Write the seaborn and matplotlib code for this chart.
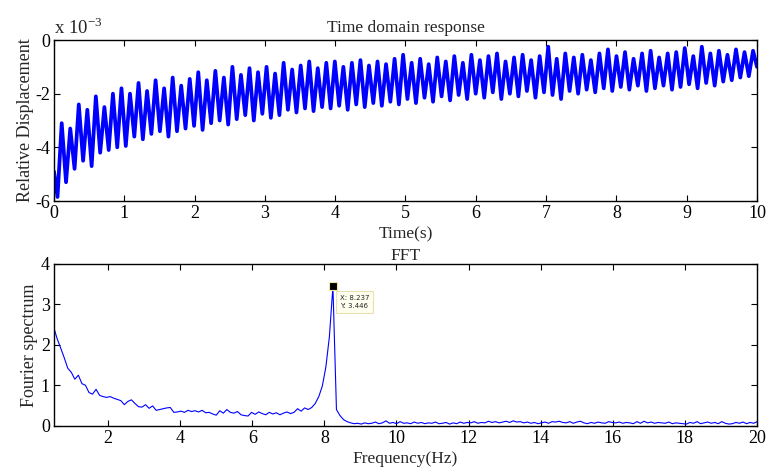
import numpy as np
import pandas as pd
import matplotlib
matplotlib.use("Agg")
import matplotlib.pyplot as plt
import seaborn as sns

# ---------------- data ----------------
# Time response: one trough and one peak per oscillation cycle (x 1e-3)
f_main = 8.237  # Hz, dominant frequency (from datatip)
start_value = -4.9
end_value = -1.0
troughs = [-5.85, -5.3, -4.8, -4.5, -4.7, -4.2, -4.1, -4.0,
           -3.95, -3.6, -3.7, -3.5, -3.4, -3.6, -3.4, -3.3,
           -3.2, -3.35, -3.1, -3.0, -3.15, -2.95, -2.8, -3.0,
           -2.75, -2.9, -2.8, -2.6, -2.7, -2.55, -2.65, -2.5,
           -2.55, -2.45, -2.6, -2.4, -2.5, -2.35, -2.45, -2.3,
           -2.4, -2.2, -2.35, -2.15, -2.3, -2.1, -2.25, -2.05,
           -2.2, -2.0, -2.15, -1.95, -2.2, -2.0, -2.1, -1.9,
           -2.15, -1.95, -2.05, -2.2, -1.9, -2.0, -1.85, -1.95,
           -1.8, -1.9, -1.75, -1.85, -1.7, -1.9, -1.8, -1.7,
           -1.85, -1.75, -1.65, -1.8, -1.6, -1.7, -1.55, -1.5, -1.4, -1.35]
peaks = [-3.1, -3.3, -2.4, -2.6, -2.1, -2.5, -2.0, -1.8,
         -2.0, -1.6, -1.9, -1.5, -1.8, -1.4, -1.7, -1.45,
         -1.2, -1.5, -1.15, -1.4, -1.0, -1.3, -1.05, -1.2,
         -1.0, -1.25, -0.85, -1.1, -0.95, -0.8, -1.05, -0.85,
         -0.8, -1.0, -0.85, -0.75, -0.95, -0.8, -0.9, -0.7,
         -0.55, -0.85, -0.7, -0.9, -0.65, -0.8, -0.6, -0.85,
         -0.55, -0.75, -0.6, -0.5, -0.8, -0.65, -0.55, -0.75,
         -0.6, -0.25, -0.7, -0.5, -0.65, -0.55, -0.75, -0.5,
         -0.35, -0.6, -0.45, -0.7, -0.5, -0.4, -0.65, -0.5,
         -0.45, -0.3, -0.6, -0.25, -0.5, -0.4, -0.55, -0.35, -0.45, -0.4]

# FFT: amplitude at bins k*df, k = 5 .. 204
df_hz = 8.237 / 84
fft_first_bin = 5
fft_vals = [2.44, 2.15, 1.92, 1.68, 1.42, 1.32, 1.15, 1.25, 1.04, 1.0,
            0.82, 0.78, 0.9, 0.75, 0.72, 0.70, 0.72, 0.68, 0.65, 0.62,
            0.52, 0.60, 0.64, 0.55, 0.47, 0.46, 0.52, 0.43, 0.49, 0.38,
            0.40, 0.42, 0.44, 0.45, 0.33, 0.34, 0.36, 0.33, 0.38, 0.35,
            0.37, 0.34, 0.38, 0.32, 0.33, 0.29, 0.26, 0.37, 0.31, 0.40,
            0.33, 0.31, 0.35, 0.27, 0.25, 0.24, 0.33, 0.28, 0.34, 0.30,
            0.27, 0.33, 0.29, 0.32, 0.27, 0.31, 0.34, 0.30, 0.33, 0.42,
            0.36, 0.44, 0.40, 0.45, 0.55, 0.72, 0.98, 1.45, 2.20, 3.446,
            0.40, 0.25, 0.15, 0.10, 0.07, 0.05, 0.06, 0.04, 0.07, 0.05,
            0.06, 0.09, 0.05, 0.07, 0.12, 0.06, 0.08, 0.05, 0.10, 0.06,
            0.07, 0.05, 0.09, 0.06, 0.08, 0.05, 0.07, 0.06, 0.09, 0.05,
            0.06, 0.08, 0.04, 0.07, 0.05, 0.09, 0.06, 0.08, 0.07, 0.10,
            0.06, 0.08, 0.07, 0.11, 0.08, 0.10, 0.07, 0.09, 0.11, 0.08,
            0.12, 0.09, 0.10, 0.07, 0.09, 0.06, 0.08, 0.05, 0.07, 0.09,
            0.06, 0.10, 0.09, 0.11, 0.08, 0.07, 0.10, 0.06, 0.09, 0.11,
            0.07, 0.05, 0.08, 0.06, 0.09, 0.07, 0.06, 0.10, 0.08, 0.07,
            0.09, 0.06, 0.08, 0.07, 0.05, 0.10, 0.06, 0.11, 0.07, 0.09,
            0.06, 0.08, 0.07, 0.06, 0.09, 0.05, 0.07, 0.06, 0.05, 0.04,
            0.08, 0.06, 0.10, 0.05, 0.07, 0.09, 0.06, 0.08, 0.05, 0.10,
            0.06, 0.04, 0.05, 0.08, 0.06, 0.09, 0.05, 0.08, 0.06, 0.10]
peak_label = "X: 8.237\nY: 3.446"

# ---------------- build tables ----------------
T = 1.0 / f_main
n = len(peaks)
t_pts = [0.0]
y_pts = [start_value]
for k in range(n):
    t_pts += [0.05 + k * T, 0.11 + k * T]
    y_pts += [troughs[k], peaks[k]]
t_pts.append(10.0)
y_pts.append(end_value)
time_df = pd.DataFrame({"t": t_pts, "y": y_pts})

freqs = (np.arange(len(fft_vals)) + fft_first_bin) * df_hz
fft_df = pd.DataFrame({"f": freqs, "a": fft_vals})

# ---------------- style ----------------
sns.set_style("ticks")
plt.rcParams["font.family"] = ["Liberation Serif", "DejaVu Serif"]
plt.rcParams["mathtext.fontset"] = "custom"
plt.rcParams["mathtext.rm"] = "Liberation Serif"
plt.rcParams.update({
    "xtick.direction": "in", "ytick.direction": "in",
    "xtick.top": True, "ytick.right": True,
    "xtick.major.size": 4, "ytick.major.size": 4,
    "xtick.major.width": 0.8, "ytick.major.width": 0.8,
    "axes.linewidth": 1.0, "axes.edgecolor": "black",
    "xtick.color": "black", "ytick.color": "black",
    "font.size": 12,
})

fig = plt.figure(figsize=(7.69, 4.68), dpi=100)
ax1 = fig.add_axes([0.0702, 0.5705, 0.9142, 0.344])
ax2 = fig.add_axes([0.0702, 0.0904, 0.9142, 0.3455])

sns.lineplot(data=time_df, x="t", y="y", ax=ax1, color="#0000ff",
             linewidth=2.7, estimator=None, sort=False)
ax1.set_xlim(0, 10)
ax1.set_ylim(-6, 0)
ax1.set_xticks(range(0, 11))
ax1.set_yticks([-6, -4, -2, 0])
ax1.set_yticklabels(["-6", "-4", "-2", "0"])
ax1.set_title("Time domain response", fontsize=12.5, pad=6)
ax1.set_xlabel("Time(s)", fontsize=12.5, labelpad=3)
ax1.set_ylabel("Relative Displacement", fontsize=13, labelpad=1)
ax1.text(0.0, 1.015, r"x 10$^{\mathregular{-3}}$", transform=ax1.transAxes,
         fontsize=13.5, ha="left", va="bottom")

sns.lineplot(data=fft_df, x="f", y="a", ax=ax2, color="#0000ff",
             linewidth=0.8, estimator=None, sort=False)
ax2.set_xlim(0.5, 20)
ax2.set_ylim(0, 4)
ax2.set_xticks(range(2, 21, 2))
ax2.set_yticks([0, 1, 2, 3, 4])
ax2.set_title("FFT", fontsize=12.5, pad=2)
ax2.set_xlabel("Frequency(Hz)", fontsize=12.5, labelpad=3)
ax2.set_ylabel("Fourier spectrum", fontsize=13, labelpad=2)

pk = int(np.argmax(fft_vals))
ax2.plot([freqs[pk]], [fft_vals[pk]], marker="s", color="black", ms=5.5,
         mec="#f0e6a8", mew=0.8, zorder=5)
ax2.annotate(peak_label, xy=(freqs[pk], fft_vals[pk]), xytext=(5, -6),
             textcoords="offset points", ha="left", va="top",
             fontsize=5, family="DejaVu Sans", linespacing=1.5,
             bbox=dict(boxstyle="square,pad=0.5", fc="#fffff0",
                       ec="#e8e0b0", lw=0.8))

for ax in (ax1, ax2):
    ax.tick_params(axis="both", which="major", labelsize=13, pad=3)
    for s in ax.spines.values():
        s.set_visible(True)

fig.savefig("out.png", dpi=100)
